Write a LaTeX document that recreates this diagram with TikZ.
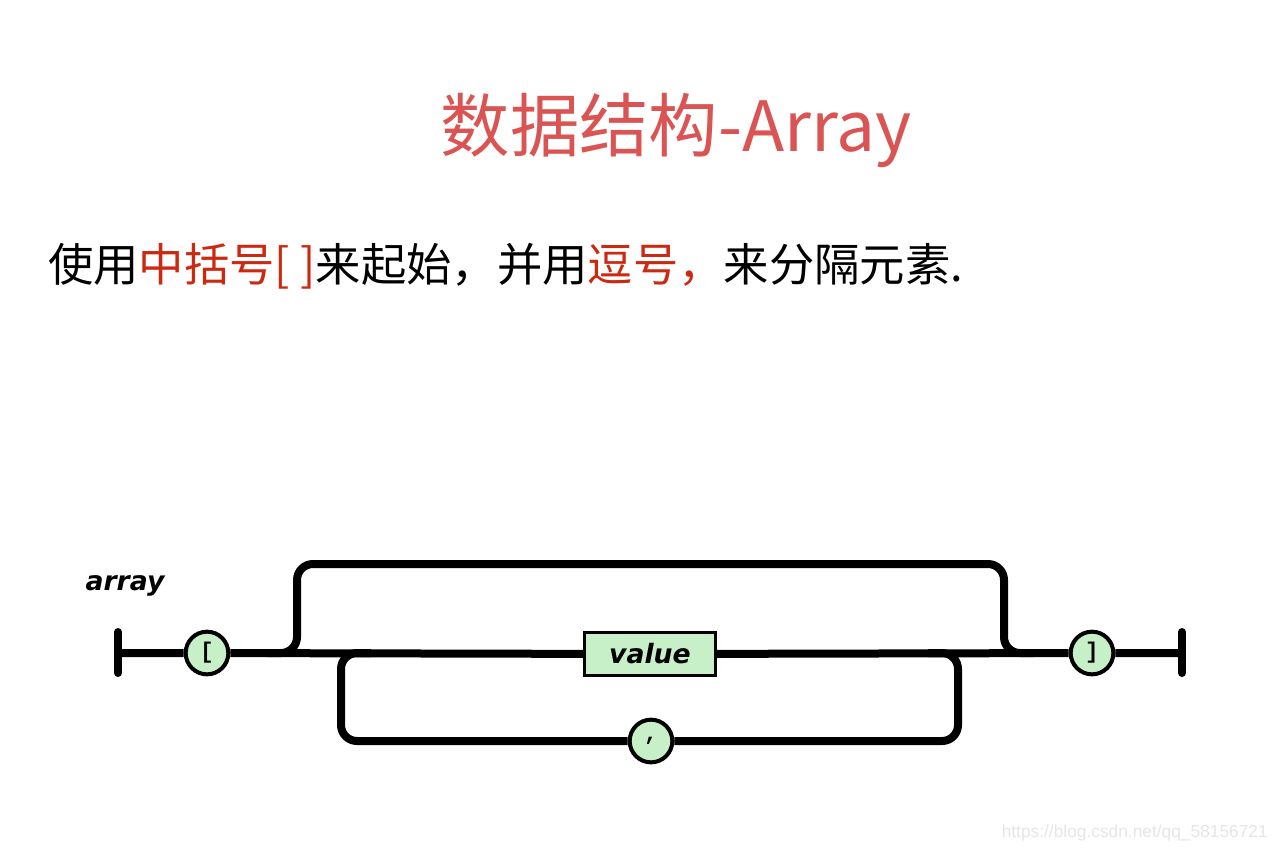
\documentclass[tikz,border=0pt]{standalone}
\usepackage{fontspec}
\usetikzlibrary{backgrounds,calc}
\setmainfont{Noto Sans CJK SC}
\newfontfamily\rrfont{DejaVu Sans}
\newfontfamily\termfont{Liberation Mono}
\newfontfamily\wmfont{Liberation Sans}
\definecolor{titlered}{RGB}{218,84,84}
\definecolor{subred}{RGB}{204,41,17}
\definecolor{termgreen}{RGB}{200,240,200}
\definecolor{wmgray}{RGB}{230,230,230}
\begin{document}
\begin{tikzpicture}[x=0.75pt,y=-0.75pt,
  rail/.style={line width=6pt, black},
  barline/.style={line width=6pt, line cap=round, black},
  term/.style={circle, draw, line width=3pt, fill=termgreen, minimum size=32pt, inner sep=0pt, font=\termfont\bfseries\fontsize{17}{17}\selectfont},
  nonterm/.style={rectangle, draw, line width=2.5pt, fill=termgreen, minimum width=98pt, minimum height=32pt, inner sep=0pt, font=\rrfont\bfseries\itshape\fontsize{20}{20}\selectfont}]
\useasboundingbox (0,0) rectangle (1276,851);

\node[anchor=base, text=titlered, font=\fontsize{52}{52}\selectfont, inner sep=0pt] (title) at (676,151) {数据结构-Array};
\node[anchor=base west, inner sep=0pt, font=\fontsize{34}{34}\selectfont] (sub) at (48,281) {使用\textcolor{subred}{中括号[ ]}来起始，并用\textcolor{subred}{逗号，}来分隔元素.};

\node[font=\rrfont\bfseries\itshape\fontsize{20}{20}\selectfont, inner sep=0pt] (lbl) at (125,586) {array};

\coordinate (start) at (118,653);
\coordinate (startT) at (118,632);
\coordinate (startB) at (118,673);
\coordinate (end) at (1182,653);
\coordinate (endT) at (1182,632);
\coordinate (endB) at (1182,673);
\coordinate (upL) at (297,564);
\coordinate (upR) at (1004,564);
\coordinate (loopL) at (341,741);
\coordinate (loopR) at (958,741);

\node[term] (lb) at (207,653) {[};
\node[term] (rb) at (1092,653) {]};
\node[nonterm] (val) at (650,654) {value};
\node[term] (comma) at (651,741) {,};

\begin{scope}[on background layer]
\fill[white] (0,0) rectangle (1276,851);
\draw[rail] (start) -- (lb) -- (val) -- (rb) -- (end);
\draw[barline] (startT) -- (startB);
\draw[barline] (endT) -- (endB);
\draw[rail, rounded corners=12pt] ($(upL |- start)+(-30,0)$) -- (upL |- start) -- (upL) -- (upR) -- (upR |- start) -- ++(30,0);
\draw[rail, rounded corners=12pt] ($(loopL |- start)+(30,0)$) -- (loopL |- start) -- (loopL) -- (comma) -- (loopR) -- (loopR |- start) -- ++(-30,0);
\end{scope}

\node[anchor=east, text=wmgray, font=\wmfont\fontsize{13}{13}\selectfont, inner sep=0pt] (wm) at (1268,833) {https://blog.csdn.net/qq\_58156721};
\end{tikzpicture}
\end{document}
